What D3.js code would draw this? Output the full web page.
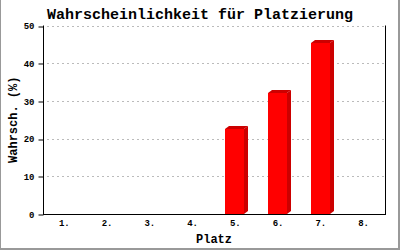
<!DOCTYPE html>
<html><head><meta charset="utf-8">
<script src="https://cdn.jsdelivr.net/npm/d3@7"></script>
<style>html,body{margin:0;padding:0;background:#fff;}svg{display:block;}</style>
</head><body>
<script>
const categories = ["1.","2.","3.","4.","5.","6.","7.","8."];
const values = [0,0,0,0,22.5,32.1,45.4,0];
const yTicks = [0,10,20,30,40,50];
const title = "Wahrscheinlichkeit für Platzierung";
const xTitle = "Platz";
const yTitle = "Wahrsch. (%)";

const W=400,H=250, L=43, R=385, T=25.5, B=214;
const svg=d3.select("body").append("svg").attr("width",W).attr("height",H);
svg.append("rect").attr("width",W).attr("height",H).attr("fill","#fff");
// outer border (left 1px, right/bottom 2px)
svg.append("rect").attr("x",0).attr("y",0).attr("width",1).attr("height",H).attr("fill","#999");
svg.append("rect").attr("x",W-2).attr("y",0).attr("width",2).attr("height",H).attr("fill","#999");
svg.append("rect").attr("x",0).attr("y",H-2).attr("width",W).attr("height",2).attr("fill","#999");

const x=d3.scaleBand().domain(categories).range([L,R]).padding(0);
const y=d3.scaleLinear().domain([0,50]).range([B,T]);
const mono="'Liberation Mono','DejaVu Sans Mono',monospace";

// grid
svg.append("g").selectAll("line").data(yTicks.filter(d=>d>0)).join("line")
  .attr("x1",L+4).attr("x2",R).attr("y1",d=>Math.round(y(d))+0.5).attr("y2",d=>Math.round(y(d))+0.5)
  .attr("stroke","#bbb").attr("stroke-dasharray","2,3");

// y axis
const ya=svg.append("g").attr("transform",`translate(${L+0.5},0.5)`)
  .call(d3.axisLeft(y).tickValues(yTicks).tickSize(5).tickPadding(4).tickFormat(d3.format("d")));
ya.select(".domain").remove();
ya.selectAll(".tick line").attr("stroke","#000").attr("transform",d=>`translate(0,${Math.round(y(d))-y(d)})`);
ya.selectAll("text").attr("font-family",mono).attr("font-size",9).attr("font-weight","bold").attr("fill","#000");

// bars
const dx=4, dy=3, bw=19;
const g=svg.append("g");
categories.forEach((c,i)=>{
  const v=values[i]; if(!v) return;
  const x0=Math.round(x(c)+x.bandwidth()/2-10), yt=Math.round(y(v)), yb=y(0);
  g.append("polygon").attr("points",`${x0+bw},${yt} ${x0+bw+dx},${yt-dy} ${x0+bw+dx},${yb-dy} ${x0+bw},${yb}`).attr("fill","#cc0000");
  g.append("polygon").attr("points",`${x0},${yt} ${x0+dx},${yt-dy} ${x0+bw+dx},${yt-dy} ${x0+bw},${yt}`).attr("fill","#cc0000");
  g.append("rect").attr("x",x0).attr("y",yt).attr("width",bw).attr("height",yb-yt).attr("fill","#ff0000");
});

// axis frame
svg.append("line").attr("x1",L+0.5).attr("x2",L+0.5).attr("y1",T).attr("y2",B+1).attr("stroke","#000");
svg.append("line").attr("x1",R+0.5).attr("x2",R+0.5).attr("y1",T).attr("y2",B+1).attr("stroke","#000");
svg.append("line").attr("x1",L).attr("x2",R+1).attr("y1",B+0.5).attr("y2",B+0.5).attr("stroke","#000");

// x labels
svg.append("g").selectAll("text").data(categories).join("text")
  .attr("x",d=>x(d)+x.bandwidth()/2).attr("y",226).attr("text-anchor","middle")
  .attr("font-family",mono).attr("font-size",9).attr("font-weight","bold").text(d=>d);

// titles
svg.append("text").attr("x",200).attr("y",19).attr("text-anchor","middle")
  .attr("font-family",mono).attr("font-weight","bold").attr("font-size",15).text(title);
svg.append("text").attr("x",(L+R)/2).attr("y",243).attr("text-anchor","middle")
  .attr("font-family",mono).attr("font-weight","bold").attr("font-size",12).text(xTitle);
svg.append("text").attr("transform",`translate(17,${(T+B)/2}) rotate(-90)`).attr("text-anchor","middle")
  .attr("font-family",mono).attr("font-weight","bold").attr("font-size",12).text(yTitle);
</script>
</body></html>
